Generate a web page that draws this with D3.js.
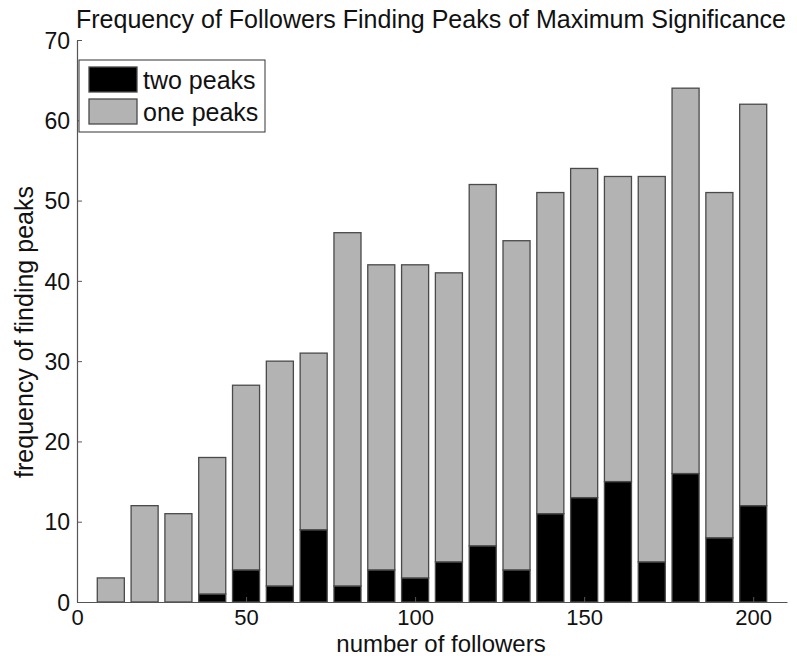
<!DOCTYPE html>
<html>
<head>
<meta charset="utf-8">
<script src="https://cdn.jsdelivr.net/npm/d3@7/dist/d3.min.js"></script>
<style>
  html, body { margin: 0; padding: 0; background: #fff; }
  svg { display: block; font-family: "Liberation Sans", Arial, Helvetica, sans-serif; }
</style>
</head>
<body>
<svg id="chart" width="797" height="656"></svg>
<script>
// Number of followers (bar centres)
const followers = [10, 20, 30, 40, 50, 60, 70, 80, 90, 100, 110, 120, 130, 140, 150, 160, 170, 180, 190, 200];
// Runs where followers found two peaks
const twoPeaks = [0, 0, 0, 1, 4, 2, 9, 2, 4, 3, 5, 7, 4, 11, 13, 15, 5, 16, 8, 12];
// Runs where followers found one peak
const onePeaks = [3, 12, 11, 17, 23, 28, 22, 44, 38, 39, 36, 45, 41, 40, 41, 38, 48, 48, 43, 50];
const seriesNames = ["two peaks", "one peaks"];
const xTicks = [0, 50, 100, 150, 200];
const yTicks = [0, 10, 20, 30, 40, 50, 60, 70];

const svg = d3.select("#chart");
const plotLeft = 77, plotRight = 787, plotTop = 40, plotBottom = 602;

const x = d3.scaleLinear().domain([0, 210]).range([plotLeft, plotRight]);
const y = d3.scaleLinear().domain([0, 70]).range([plotBottom, plotTop]);

const colors = { "two peaks": "#000000", "one peaks": "#b3b3b3" };
const rows = followers.map((f, i) => ({ f, "two peaks": twoPeaks[i], "one peaks": onePeaks[i] }));
const stacked = d3.stack().keys(seriesNames)(rows);

const barW = x(8) - x(0);

svg.append("g").selectAll("g")
  .data(stacked)
  .join("g")
  .attr("fill", d => colors[d.key])
  .selectAll("rect")
  .data(d => d.filter(s => s[1] - s[0] > 0))
  .join("rect")
  .attr("x", d => x(d.data.f) - barW / 2)
  .attr("width", barW)
  .attr("y", d => y(d[1]))
  .attr("height", d => y(d[0]) - y(d[1]))
  .attr("stroke", "#4a4a4a")
  .attr("stroke-width", 1.3);

// Axes with inward ticks
const xAxis = svg.append("g").attr("transform", `translate(0,${plotBottom})`)
  .call(d3.axisBottom(x).tickValues(xTicks).tickSizeInner(-5).tickSizeOuter(0).tickPadding(7));
const yAxis = svg.append("g").attr("transform", `translate(${plotLeft},0)`)
  .call(d3.axisLeft(y).tickValues(yTicks).tickSizeInner(-5).tickSizeOuter(0).tickPadding(7));

[xAxis, yAxis].forEach(a => {
  a.select(".domain").attr("stroke", "#555").attr("stroke-width", 1.2);
  a.selectAll(".tick line").attr("stroke", "#555").attr("stroke-width", 1);
  a.selectAll(".tick text").attr("fill", "#111").style("font-size", "23px")
    .style("font-family", "'Liberation Sans', Arial, sans-serif");
});
xAxis.selectAll(".tick text").style("font-size", "22px").attr("dy", "0.71em");
yAxis.selectAll(".tick text").attr("dy", "0.36em");

// Title and axis labels
svg.append("text").attr("x", 431).attr("y", 28).attr("text-anchor", "middle")
  .style("font-size", "25px").attr("fill", "#111")
  .text("Frequency of Followers Finding Peaks of Maximum Significance");
svg.append("text").attr("x", 441).attr("y", 652).attr("text-anchor", "middle")
  .style("font-size", "24px").attr("fill", "#111")
  .text("number of followers");
svg.append("text").attr("transform", "translate(33,332) rotate(-90)").attr("text-anchor", "middle")
  .style("font-size", "25px").attr("fill", "#111")
  .text("frequency of finding peaks");

// Legend
const lg = svg.append("g");
lg.append("rect").attr("x", 79).attr("y", 60).attr("width", 186).attr("height", 72)
  .attr("fill", "#fff").attr("stroke", "#333").attr("stroke-width", 1);
seriesNames.forEach((name, i) => {
  lg.append("rect").attr("x", 89).attr("y", 67 + i * 32).attr("width", 48).attr("height", 25)
    .attr("fill", colors[name]).attr("stroke", "#4a4a4a").attr("stroke-width", 1.3);
  lg.append("text").attr("x", 143).attr("y", 89 + i * 32)
    .style("font-size", "25px").attr("fill", "#111").text(name);
});
</script>
</body>
</html>
